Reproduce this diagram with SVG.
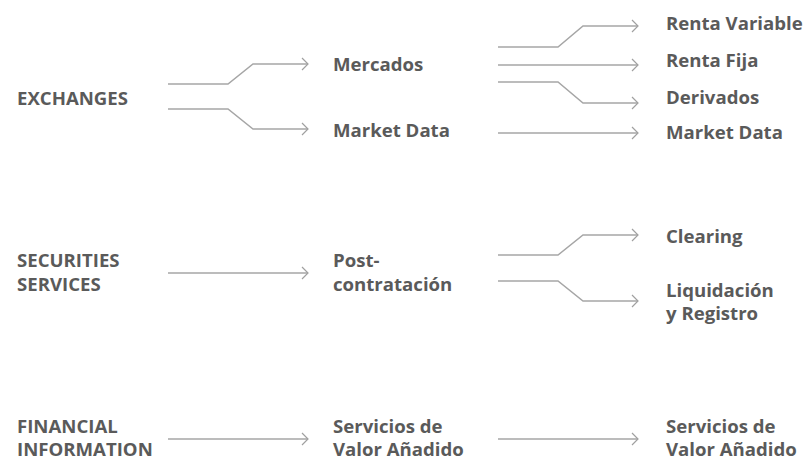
<svg xmlns="http://www.w3.org/2000/svg" width="805" height="462" viewBox="0 0 805 462">
<defs>
<marker id="arr" viewBox="0 0 10 14" refX="8.5" refY="7" markerWidth="10" markerHeight="14" markerUnits="userSpaceOnUse" orient="auto">
<path d="M2.5,1 L8.5,7 L2.5,13" fill="none" stroke="#a0a0a0" stroke-width="1.2"/>
</marker>
<style>
.t{font-family:"Open Sans","Noto Sans",sans-serif;font-weight:700;font-size:18.6px;fill:#5a5a5a}
.c{fill:none;stroke:#a6a6a6;stroke-width:1.5;marker-end:url(#arr)}
</style>
</defs>
<rect width="805" height="462" fill="#ffffff"/>
<g id="connectors">
<path class="c" d="M168,84 H228 L253,64 H308"/>
<path class="c" d="M168,109 H228 L253,129 H308"/>
<path class="c" d="M498,47 H558 L583,26 H638"/>
<path class="c" d="M498,65 H638"/>
<path class="c" d="M498,82 H558 L583,103 H638"/>
<path class="c" d="M498,133 H638"/>
<path class="c" d="M168,273 H308"/>
<path class="c" d="M498,255 H558 L583,235 H638"/>
<path class="c" d="M498,281 H558 L583,301 H638"/>
<path class="c" d="M168,439 H308"/>
<path class="c" d="M498,439 H638"/>
</g>
<g id="exchanges"><text class="t" x="17" y="105">EXCHANGES</text></g>
<g id="mercados"><text class="t" x="333" y="71">Mercados</text></g>
<g id="market-data-1"><text class="t" x="333" y="137">Market Data</text></g>
<g id="renta-variable"><text class="t" x="666" y="30">Renta Variable</text></g>
<g id="renta-fija"><text class="t" x="666" y="67">Renta Fija</text></g>
<g id="derivados"><text class="t" x="666" y="104">Derivados</text></g>
<g id="market-data-2"><text class="t" x="666" y="139">Market Data</text></g>
<g id="securities"><text class="t" x="17" y="267">SECURITIES</text><text class="t" x="17" y="291">SERVICES</text></g>
<g id="post"><text class="t" x="333" y="267">Post-</text><text class="t" x="333" y="291">contratación</text></g>
<g id="clearing"><text class="t" x="666" y="243">Clearing</text></g>
<g id="liquidacion"><text class="t" x="666" y="297">Liquidación</text><text class="t" x="666" y="320">y Registro</text></g>
<g id="financial"><text class="t" x="17" y="433">FINANCIAL</text><text class="t" x="17" y="456">INFORMATION</text></g>
<g id="servicios-1"><text class="t" x="333" y="433">Servicios de</text><text class="t" x="333" y="456">Valor Añadido</text></g>
<g id="servicios-2"><text class="t" x="666" y="433">Servicios de</text><text class="t" x="666" y="456">Valor Añadido</text></g>
</svg>
